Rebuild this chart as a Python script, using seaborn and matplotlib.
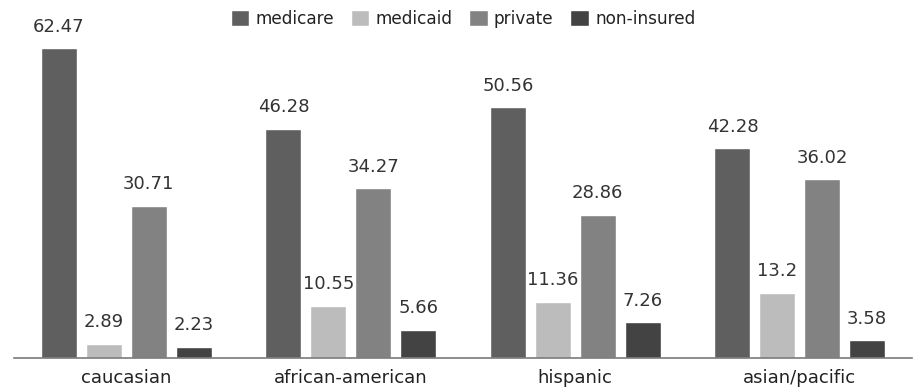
import matplotlib
matplotlib.use("Agg")
import matplotlib.pyplot as plt
import seaborn as sns
import pandas as pd

groups = ["caucasian", "african-american", "hispanic", "asian/pacific"]
series = ["medicare", "medicaid", "private", "non-insured"]
medicare = [62.47, 46.28, 50.56, 42.28]
medicaid = [2.89, 10.55, 11.36, 13.2]
private = [30.71, 34.27, 28.86, 36.02]
non_insured = [2.23, 5.66, 7.26, 3.58]
labels = [["62.47", "46.28", "50.56", "42.28"],
          ["2.89", "10.55", "11.36", "13.2"],
          ["30.71", "34.27", "28.86", "36.02"],
          ["2.23", "5.66", "7.26", "3.58"]]

colors = ["#5f5f5f", "#bcbcbc", "#828282", "#434343"]

rows = []
for s, vals in zip(series, [medicare, medicaid, private, non_insured]):
    for g, v in zip(groups, vals):
        rows.append({"group": g, "series": s, "value": v})
df = pd.DataFrame(rows)

sns.set_style("white")
plt.rcParams["font.family"] = ["DejaVu Sans"]

fig = plt.figure(figsize=(9.2, 3.89), dpi=100)
ax = fig.add_axes([14/920, 31/389, 898/920, 358/389])
sns.barplot(data=df, x="group", y="value", hue="series", order=groups,
            hue_order=series, palette=colors, width=0.8, gap=0.2,
            saturation=1, ax=ax, errorbar=None)

for cont, labs in zip(ax.containers, labels):
    ax.bar_label(cont, labels=labs, padding=9, fontsize=13, color="#333333")

ax.set_xlim(-0.5, 3.5)
ax.set_ylim(0, 72.2)
ax.set_xlabel("")
ax.set_ylabel("")
ax.set_yticks([])
ax.tick_params(axis="x", length=0, labelsize=13, labelcolor="#222222", pad=8)
for side in ["top", "right", "left"]:
    ax.spines[side].set_visible(False)
ax.spines["bottom"].set_color("#7a7a7a")
ax.spines["bottom"].set_linewidth(1.2)

leg = ax.legend(loc="upper center", bbox_to_anchor=(0.5, 1.015), ncol=4,
                frameon=False, fontsize=12.2, handlelength=1.1, handleheight=1.1,
                handletextpad=0.35, columnspacing=1.0)
for t in leg.get_texts():
    t.set_color("#222222")

fig.savefig("out.png", dpi=100)
